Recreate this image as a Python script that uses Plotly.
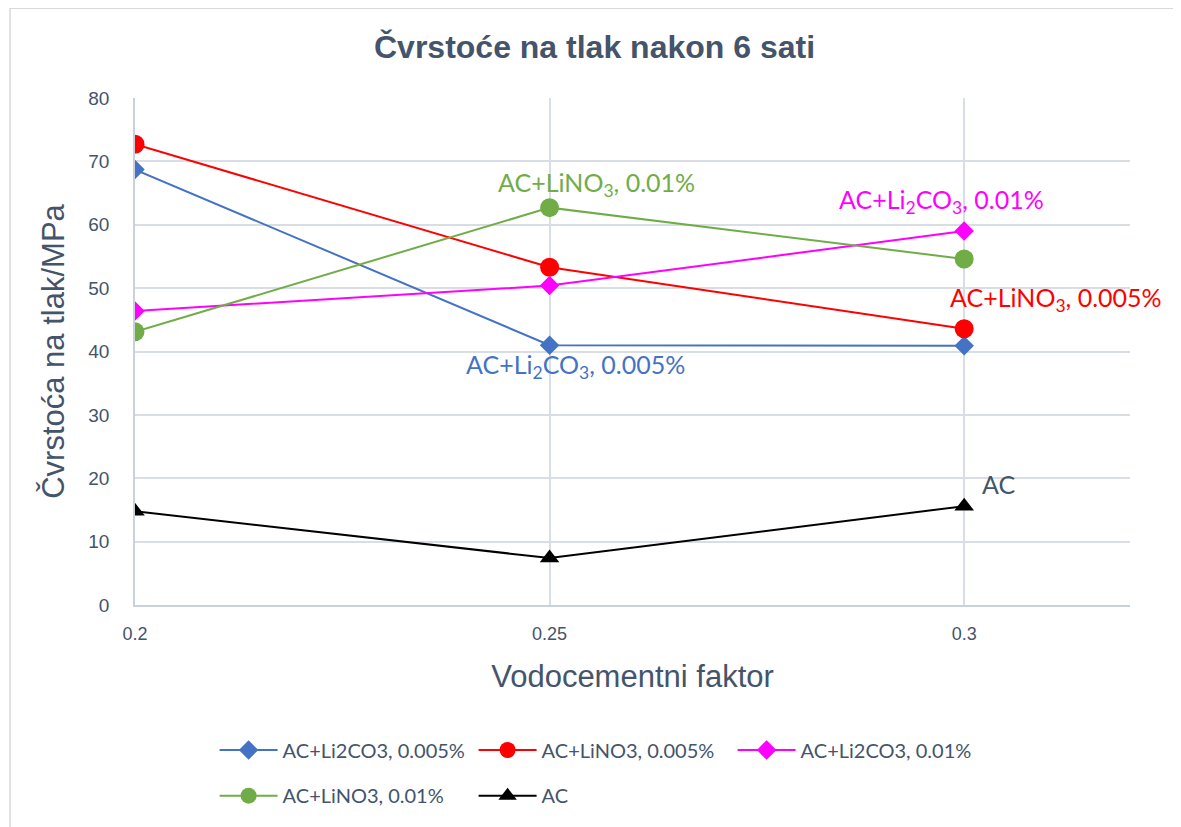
import plotly.graph_objects as go

# water/cement ratio on x, compressive strength (MPa) on y
wc = [0.2, 0.25, 0.3]
li2co3_0005 = [68.7, 41.0, 40.9]
lino3_0005 = [72.7, 53.3, 43.6]
li2co3_001 = [46.4, 50.4, 59.0]
lino3_001 = [43.1, 62.7, 54.6]
ac = [14.8, 7.4, 15.6]

series_names = ["AC+Li2CO3, 0.005%", "AC+LiNO3, 0.005%", "AC+Li2CO3, 0.01%",
                "AC+LiNO3, 0.01%", "AC"]
series_values = [li2co3_0005, lino3_0005, li2co3_001, lino3_001, ac]
colors = ["#4472C4", "#FF0000", "#FF00FF", "#70AD47", "#000000"]
symbols = ["diamond", "circle", "diamond", "circle", "triangle-up"]
sizes = [15, 19, 15, 19, 17]
# first three in the top legend row, last two in the second row
legend_ids = ["legend", "legend", "legend", "legend2", "legend2"]

TEXT = "#44546A"
GRID = "#D9DEE6"

fig = go.Figure()
for name, vals, c, sym, sz, lg in zip(series_names, series_values, colors, symbols, sizes, legend_ids):
    fig.add_trace(go.Scatter(
        x=wc, y=vals, name=name, mode="lines+markers",
        line=dict(color=c, width=2),
        marker=dict(color=c, symbol=sym, size=sz),
        legend=lg,
    ))

# point labels: (trace index, point index, html text, xshift, yshift)
labels = [
    (3, 1, "AC+LiNO<sub>3</sub>, 0.01%", 47, 24),
    (0, 1, "AC+Li<sub>2</sub>CO<sub>3</sub>, 0.005%", 26, -21),
    (2, 2, "AC+Li<sub>2</sub>CO<sub>3</sub>, 0.01%", -23, 30),
    (1, 2, "AC+LiNO<sub>3</sub>, 0.005%", 92, 30),
    (4, 2, "AC", 34, 22),
]
for ti, pi, txt, xs, ys in labels:
    fig.add_annotation(
        x=wc[pi], y=series_values[ti][pi], text=txt, showarrow=False,
        xshift=xs, yshift=ys,
        font=dict(family="Lato, Open Sans, sans-serif", size=25,
                  color=colors[ti] if ti != 4 else TEXT),
    )

# outer chart border
fig.add_shape(type="rect", xref="paper", yref="paper",
              x0=-0.1256, x1=1.047, y0=-0.44, y1=1.177,
              line=dict(color="#D9D9D9", width=1.5), layer="below")

legend_common = dict(
    orientation="h", xanchor="left", yanchor="middle",
    entrywidth=186, entrywidthmode="pixels", itemwidth=58,
    font=dict(family="Lato, Open Sans, sans-serif", size=20, color=TEXT),
    bgcolor="rgba(0,0,0,0)",
)

# page body has an 8px margin, so the figure is 8px smaller and margins shifted
fig.update_layout(
    width=1173, height=819,
    margin=dict(l=127, r=51, t=90, b=220),
    paper_bgcolor="white", plot_bgcolor="white",
    title=dict(text="<b>Čvrstoće na tlak nakon 6 sati</b>", x=0.5, xanchor="center",
               y=0.953, yanchor="middle",
               font=dict(family="Liberation Sans, Arial, sans-serif", size=32, color=TEXT)),
    font=dict(family="Liberation Sans, Arial, sans-serif", color=TEXT),
    legend=dict(x=0.08, y=-0.286, **legend_common),
    legend2=dict(x=0.08, y=-0.376, **legend_common),
    xaxis=dict(
        range=[0.2, 0.32], tickvals=wc, ticktext=["0.2", "0.25", "0.3"],
        showgrid=True, gridcolor=GRID, gridwidth=1.5,
        showline=True, linecolor="#C9D1DD", linewidth=1.5,
        zeroline=False, ticks="", ticklabelstandoff=12,
        tickfont=dict(size=18, color=TEXT),
        title=dict(text="Vodocementni faktor", standoff=22,
                   font=dict(size=31, color=TEXT)),
    ),
    yaxis=dict(
        range=[0, 80], dtick=10,
        showgrid=True, gridcolor=GRID, gridwidth=1.5,
        showline=True, linecolor="#C9D1DD", linewidth=1.5,
        zeroline=False, ticks="", ticklabelstandoff=20,
        tickfont=dict(size=19, color=TEXT),
        title=dict(text="Čvrstoća na tlak/MPa", standoff=14,
                   font=dict(size=31, color=TEXT)),
    ),
)

fig.write_html("out.html")
